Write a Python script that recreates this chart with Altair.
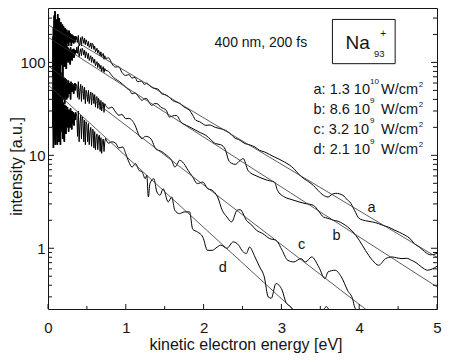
import altair as alt
import pandas as pd

FONT = "Liberation Sans"

# ---------------- data ----------------
noise_energy = [0.065, 0.070, 0.075, 0.080, 0.085, 0.090, 0.095, 0.100, 0.105, 0.110,
                0.115, 0.120, 0.125, 0.130, 0.135, 0.140, 0.145, 0.150, 0.155, 0.160,
                0.165, 0.170, 0.175, 0.180, 0.185, 0.190, 0.195, 0.200, 0.205, 0.210,
                0.215, 0.220, 0.225, 0.230, 0.235, 0.240, 0.245, 0.250, 0.255, 0.260,
                0.265, 0.270, 0.275, 0.280, 0.285, 0.290, 0.295, 0.300, 0.305, 0.310,
                0.315, 0.320, 0.325, 0.330, 0.335, 0.340, 0.345, 0.350, 0.355, 0.360]

a_noise = [70, 240, 130, 320, 100, 355, 210, 150, 290, 95,
           260, 170, 330, 140, 220, 115, 300, 185, 240, 120,
           270, 160, 230, 135, 255, 190, 150, 245, 170, 215,
           130, 235, 180, 205, 145, 225, 190, 160, 210, 175,
           150, 220, 185, 165, 205, 170, 195, 150, 200, 180,
           165, 195, 175, 160, 190, 170, 185, 165, 192, 176]
b_noise = [190, 35, 230, 60, 250, 80, 45, 210, 70, 185,
           120, 55, 200, 90, 160, 65, 190, 100, 150, 75,
           170, 95, 140, 120, 160, 70, 155, 100, 125, 165,
           90, 150, 115, 140, 85, 155, 105, 130, 145, 100,
           140, 110, 135, 120, 95, 145, 115, 130, 125, 105,
           138, 118, 128, 140, 112, 135, 122, 130, 136, 126]
c_noise = [20, 85, 35, 110, 25, 95, 60, 30, 100, 40,
           80, 28, 90, 50, 70, 32, 85, 45, 60, 30,
           78, 48, 65, 35, 72, 55, 40, 70, 50, 62,
           36, 68, 52, 45, 66, 40, 60, 55, 42, 64,
           50, 60, 46, 58, 52, 40, 62, 54, 48, 60,
           55, 50, 58, 46, 57, 52, 60, 50, 56, 58]
d_noise = [50, 12, 65, 16, 75, 22, 13, 55, 18, 45,
           28, 13, 52, 20, 40, 14, 46, 25, 36, 13,
           42, 18, 34, 26, 40, 15, 37, 22, 30, 14,
           35, 24, 32, 17, 34, 26, 20, 33, 24, 30,
           18, 31, 25, 29, 20, 32, 24, 28, 19, 30,
           26, 22, 29, 25, 21, 28, 26, 24, 29, 27]

# jagged transition region (noise dying out)
mid_energy = [0.38, 0.39, 0.40, 0.42, 0.43, 0.44, 0.46, 0.47, 0.48, 0.49,
              0.51, 0.52, 0.53, 0.55, 0.56, 0.57, 0.59, 0.60, 0.61, 0.63,
              0.64, 0.65, 0.67, 0.68, 0.69, 0.71, 0.72, 0.73]
a_mid = [165, 195, 150, 185, 150, 190, 160, 182, 155, 175,
         150, 168, 145, 162, 140, 160, 138, 150, 130, 142,
         125, 135, 118, 130, 115, 125, 108, 118]
b_mid = [125, 150, 115, 140, 118, 142, 120, 135, 112, 130,
         110, 125, 105, 118, 100, 114, 98, 108, 92, 102,
         88, 98, 85, 93, 80, 90, 78, 86]
c_mid = [42, 62, 40, 58, 38, 56, 40, 54, 36, 50,
         38, 50, 36, 48, 35, 47, 36, 45, 33, 43,
         32, 41, 31, 39, 30, 37, 29, 36]
d_mid = [16, 30, 14, 27, 15, 26, 14, 24, 13, 23,
         14, 22, 13, 20, 12.5, 19, 12, 18, 11.5, 17,
         11.5, 16, 11, 15.5, 10.5, 15, 11, 14]

a_energy = [0.37, 0.41, 0.45, 0.50, 0.54, 0.58, 0.62, 0.66, 0.70, 0.74,
            0.78, 0.82, 0.87, 0.91, 0.95, 1.00, 1.04, 1.08, 1.12, 1.15,
            1.20, 1.24, 1.27, 1.31, 1.35, 1.40, 1.43, 1.46, 1.50, 1.55,
            1.60, 1.65, 1.70, 1.74, 1.78, 1.82, 1.86, 1.90, 1.95, 2.00,
            2.03, 2.08, 2.15, 2.20, 2.28, 2.33, 2.41, 2.45, 2.53, 2.60,
            2.66, 2.72, 2.78, 2.85, 2.91, 2.97, 3.04, 3.10, 3.16, 3.22,
            3.29, 3.35, 3.41, 3.47, 3.54, 3.60, 3.65, 3.70, 3.79, 3.85,
            3.88, 3.94, 4.00, 4.08, 4.17, 4.25, 4.30, 4.38, 4.46, 4.52,
            4.59, 4.65, 4.71, 4.78, 4.84, 4.92, 5.00]
a_intensity = [187, 160, 178, 165, 150, 156, 135, 128, 122, 110,
               112, 97, 89, 90, 78, 72.4, 74, 67.8, 69, 62,
               63, 58, 59.9, 56, 53, 52.1, 50, 46.0, 45, 43,
               39, 37.4, 36, 33.5, 32.0, 30.5, 27, 23.8, 23, 21.5,
               21.0, 21.2, 20.0, 19.5, 18.6, 17.5, 15.2, 14.8, 13.4, 12.9,
               12.3, 11.3, 10.9, 10.2, 9.6, 9.1, 8.47, 7.9, 7.19, 6.3,
               5.61, 5.2, 4.75, 4.2, 3.72, 3.56, 3.80, 3.90, 3.72, 3.3,
               3.15, 2.56, 2.09, 1.98, 1.92, 1.84, 1.77, 1.68, 1.56, 1.48,
               1.38, 1.28, 1.12, 1.02, 0.92, 0.85, 0.88]

b_energy = [0.37, 0.41, 0.45, 0.50, 0.54, 0.58, 0.62, 0.66, 0.70, 0.74,
            0.78, 0.82, 0.87, 0.92, 0.96, 1.00, 1.02, 1.05, 1.08, 1.12,
            1.15, 1.18, 1.21, 1.24, 1.27, 1.30, 1.335, 1.37, 1.40, 1.45,
            1.52, 1.56, 1.60, 1.65, 1.71, 1.78, 1.84, 1.90, 1.96, 2.03,
            2.09, 2.15, 2.22, 2.28, 2.32, 2.36, 2.41, 2.47, 2.51, 2.57,
            2.61, 2.66, 2.75, 2.82, 2.91, 2.95, 3.04, 3.10, 3.16, 3.29,
            3.41, 3.48, 3.54, 3.60, 3.67, 3.73, 3.79, 3.85, 3.92, 4.00,
            4.08, 4.17, 4.25, 4.34, 4.42, 4.48, 4.55, 4.61, 4.67, 4.73,
            4.80, 4.88, 4.94, 5.00]
b_intensity = [146, 128, 135, 124, 112, 108, 96.9, 94, 86, 82,
               80, 72, 66, 62, 58, 54.2, 52, 50, 46, 47,
               44.2, 41, 39.0, 40.7, 40.7, 37, 34.5, 36, 36.0, 33,
               30.5, 25.8, 26.5, 26.9, 22.8, 21.0, 19.8, 18.6, 17.5, 16.4,
               14.8, 13.4, 13.0, 11.5, 8.9, 8.2, 8.0, 8.84, 9.22, 6.90,
               6.4, 6.10, 5.66, 5.39, 5.16, 4.21, 3.56, 3.40, 3.28, 3.05,
               2.90, 2.5, 2.17, 2.10, 2.00, 1.95, 1.84, 1.70, 1.50, 1.22,
               0.95, 0.743, 0.656, 0.774, 0.806, 0.79, 0.774, 0.78, 0.743, 0.70,
               0.630, 0.580, 0.60, 0.64]

c_energy = [0.37, 0.41, 0.45, 0.50, 0.54, 0.58, 0.62, 0.66, 0.70, 0.74,
            0.78, 0.82, 0.87, 0.91, 0.95, 1.00, 1.04, 1.08, 1.12, 1.17,
            1.21, 1.25, 1.29, 1.335, 1.38, 1.42, 1.46, 1.50, 1.55, 1.59,
            1.63, 1.66, 1.69, 1.73, 1.80, 1.86, 1.92, 1.99, 2.05, 2.11,
            2.18, 2.24, 2.30, 2.36, 2.43, 2.47, 2.55, 2.62, 2.68, 2.76,
            2.85, 2.93, 3.01, 3.08, 3.16, 3.25, 3.31, 3.39, 3.48, 3.56,
            3.60, 3.69, 3.77, 3.85, 3.92, 3.94, 3.98, 4.05]
c_intensity = [56.6, 50, 52, 46.0, 44, 45, 42.3, 38, 37, 34.5,
               32, 33, 29.2, 27, 27.5, 24.8, 25, 23.8, 21, 16.4,
               15.1, 16, 15.8, 14.5, 11.8, 11.3, 11.0, 10.4, 9.6, 8.84,
               7.48, 8.0, 8.84, 8.47, 6.90, 5.85, 4.96, 5.16, 4.38, 4.21,
               3.56, 2.56, 2.17, 1.92, 2.56, 2.60, 2.00, 1.77, 1.56, 1.44,
               1.27, 1.22, 0.95, 0.743, 0.713, 0.774, 0.713, 0.806, 0.630, 0.472,
               0.557, 0.580, 0.492, 0.353, 0.276, 0.234, 0.21, 0.18]

d_energy = [0.37, 0.41, 0.45, 0.50, 0.54, 0.58, 0.62, 0.66, 0.70, 0.74,
            0.78, 0.82, 0.87, 0.91, 0.96, 1.00, 1.04, 1.08, 1.125, 1.17,
            1.21, 1.25, 1.27, 1.29, 1.31, 1.36, 1.40, 1.44, 1.48, 1.545,
            1.59, 1.63, 1.69, 1.75, 1.82, 1.86, 1.92, 1.99, 2.05, 2.11,
            2.175, 2.22, 2.30, 2.38, 2.45, 2.50, 2.55, 2.59, 2.66, 2.72,
            2.78, 2.83, 2.87, 2.93, 2.97, 3.01, 3.06, 3.12, 3.20, 3.35,
            3.50, 3.58, 3.64, 3.75]
d_intensity = [26.9, 22, 24, 21.0, 18, 19, 15.8, 16.5, 14.5, 15.2,
               13.5, 14, 13.5, 12, 12.3, 10.4, 8.47, 7.48, 8.14, 6.90,
               6.61, 5.61, 6.1, 3.56, 4.96, 5.61, 4.03, 3.72, 4.38, 3.15,
               3.56, 2.56, 2.36, 2.46, 2.46, 1.6, 1.50, 1.32, 0.95, 0.95,
               1.03, 1.08, 1.0, 1.17, 1.08, 0.93, 0.88, 1.03, 0.806, 0.630,
               0.492, 0.30, 0.29, 0.417, 0.40, 0.353, 0.26, 0.234, 0.19, 0.15,
               0.19, 0.235, 0.19, 0.14]

# straight-line fits (start at 0 eV, end at 5 eV)
fit_energy = [0.0, 5.0]
fit_a = [254, 0.80]
fit_b = [187, 0.384]
fit_c = [92.3, 0.0569]
fit_d = [57.4, 0.0084]

x_major = [0, 1, 2, 3, 4, 5]
x_minor = [0.5, 1.5, 2.5, 3.5, 4.5]
y_major = [1, 10, 100]
y_minor = [0.3, 0.4, 0.5, 0.6, 0.7, 0.8, 0.9, 2, 3, 4, 5, 6, 7, 8, 9,
           20, 30, 40, 50, 60, 70, 80, 90, 200, 300]

# annotations: text, energy, intensity, font size
ann_text = ["400 nm, 200 fs", "Na", "93", "+",
            "a: 1.3 10", "10", "W/cm", "2",
            "b: 8.6 10", "9", "W/cm", "2",
            "c: 3.2 10", "9", "W/cm", "2",
            "d: 2.1 10", "9", "W/cm", "2",
            "a", "b", "c", "d"]
ann_x = [2.141, 3.825, 4.190, 4.270,
         3.413, 4.14, 4.28, 4.765,
         3.413, 4.14, 4.28, 4.765,
         3.413, 4.14, 4.28, 4.765,
         3.413, 4.14, 4.28, 4.765,
         4.106, 3.656, 3.212, 2.195]
ann_y = [146, 140, 114, 186,
         45.3, 59.0, 45.3, 53.8,
         28.1, 36.2, 28.1, 33.0,
         17.1, 22.1, 17.1, 20.1,
         10.3, 13.3, 10.3, 12.2,
         2.45, 1.24, 0.975, 0.5616]
ann_size = [14, 19, 9.5, 10,
            14.5, 8, 14.5, 8,
            14.5, 8, 14.5, 8,
            14.5, 8, 14.5, 8,
            14.5, 8, 14.5, 8,
            14.5, 14.5, 14.5, 14.5]

box_x = [3.656, 4.462]
box_y = [96.9, 290]

# ---------------- tables ----------------
rows = []
for name, nvals, mvals, e, v in [("a", a_noise, a_mid, a_energy, a_intensity),
                                 ("b", b_noise, b_mid, b_energy, b_intensity),
                                 ("c", c_noise, c_mid, c_energy, c_intensity),
                                 ("d", d_noise, d_mid, d_energy, d_intensity)]:
    for xx, yy in zip(noise_energy + mid_energy + e, nvals + mvals + v, strict=True):
        rows.append({"energy": xx, "intensity": yy, "curve": name})
spectra = pd.DataFrame(rows).sort_values(["curve", "energy"])

fit_rows = []
for name, vals in [("a", fit_a), ("b", fit_b), ("c", fit_c), ("d", fit_d)]:
    for xx, yy in zip(fit_energy, vals):
        fit_rows.append({"energy": xx, "intensity": yy, "line": name})
fits = pd.DataFrame(fit_rows)

ann = pd.DataFrame({"energy": ann_x, "intensity": ann_y, "text": ann_text, "size": ann_size})
box = pd.DataFrame({"energy": [box_x[0]], "energy2": [box_x[1]],
                    "intensity": [box_y[0]], "intensity2": [box_y[1]]})

W, H = 389, 301
ink = "#141414"
xscale = alt.Scale(domain=[0, 5], nice=False, zero=False)
yscale = alt.Scale(type="log", domain=[0.222, 385], nice=False)

x_axis = alt.Axis(values=x_major, format="d", title="kinetic electron energy [eV]",
                  ticks=False, tickSize=0, domain=False, grid=False,
                  labelPadding=11.5, labelFontSize=15, labelFlush=False,
                  titleFontSize=16, titleFontWeight="normal",
                  titleBaseline="alphabetic", titleY=40, titleX=W / 2 + 3)
y_axis = alt.Axis(values=y_major, format="d", title="intensity [a.u.]",
                  ticks=False, tickSize=0, domain=False, grid=False,
                  labelPadding=3, labelFontSize=15, labelFlush=False,
                  titleFontSize=16, titleFontWeight="normal",
                  titleAngle=270, titleAlign="center",
                  titleBaseline="alphabetic", titleX=-27, titleY=158)


def X(field="energy"):
    return alt.X(f"{field}:Q", scale=xscale, axis=x_axis)


def Y(field="intensity"):
    return alt.Y(f"{field}:Q", scale=yscale, axis=y_axis)


base = alt.Chart(spectra).encode(x=X(), y=Y(), detail="curve:N")

# noisy start (dense, drawn heavier so it reads as a solid mass)
noisy_heavy = base.mark_line(clip=True, color="#000000", strokeWidth=1.7).transform_filter(
    alt.datum.energy <= 0.36)
noisy = base.mark_line(clip=True, color="#000000", strokeWidth=1.0).transform_filter(
    alt.datum.energy <= 0.74)
smooth = base.mark_line(clip=True, color="#000000", strokeWidth=1,
                        interpolate="monotone").transform_filter(alt.datum.energy >= 0.74)

fit_layer = alt.Chart(fits).mark_line(clip=True, color="#333333", strokeWidth=0.8).encode(
    x=X(), y=Y(), detail="line:N")


def yticks(vals, x0, x1):
    return alt.Chart(pd.DataFrame({"intensity": vals})).mark_rule(color=ink, strokeWidth=1).encode(
        y=Y(), x=alt.value(x0), x2=alt.value(x1))


def xticks(vals, length):
    return alt.Chart(pd.DataFrame({"energy": vals})).mark_rule(color=ink, strokeWidth=1).encode(
        x=X(), y=alt.value(H), y2=alt.value(H - length))


tick_layers = [
    yticks(y_major, 0, 6), yticks(y_minor, 0, 4),
    yticks(y_major, W, W - 6), yticks(y_minor, W, W - 4),
    xticks(x_major, 5), xticks(x_minor, 3),
]

text_layer = alt.Chart(ann).mark_text(align="left", baseline="alphabetic", font=FONT, color=ink).encode(
    x=X(), y=Y(), text="text:N", size=alt.Size("size:Q", scale=None))

box_layer = alt.Chart(box).mark_rect(fillOpacity=0, stroke=ink, strokeWidth=1).encode(
    x=X(), x2="energy2:Q", y=Y(), y2="intensity2:Q")

chart = alt.layer(noisy_heavy, noisy, smooth, fit_layer, *tick_layers, box_layer, text_layer).properties(
    width=W, height=H,
    autosize=alt.AutoSizeParams(type="none"),
    padding={"left": 40, "top": 0, "right": 5, "bottom": 44},
).configure_view(stroke=ink, strokeWidth=1).configure_axis(
    labelFont=FONT, titleFont=FONT, labelColor=ink, titleColor=ink
)

chart.save("out.html", embed_options={"renderer": "svg", "actions": False})
